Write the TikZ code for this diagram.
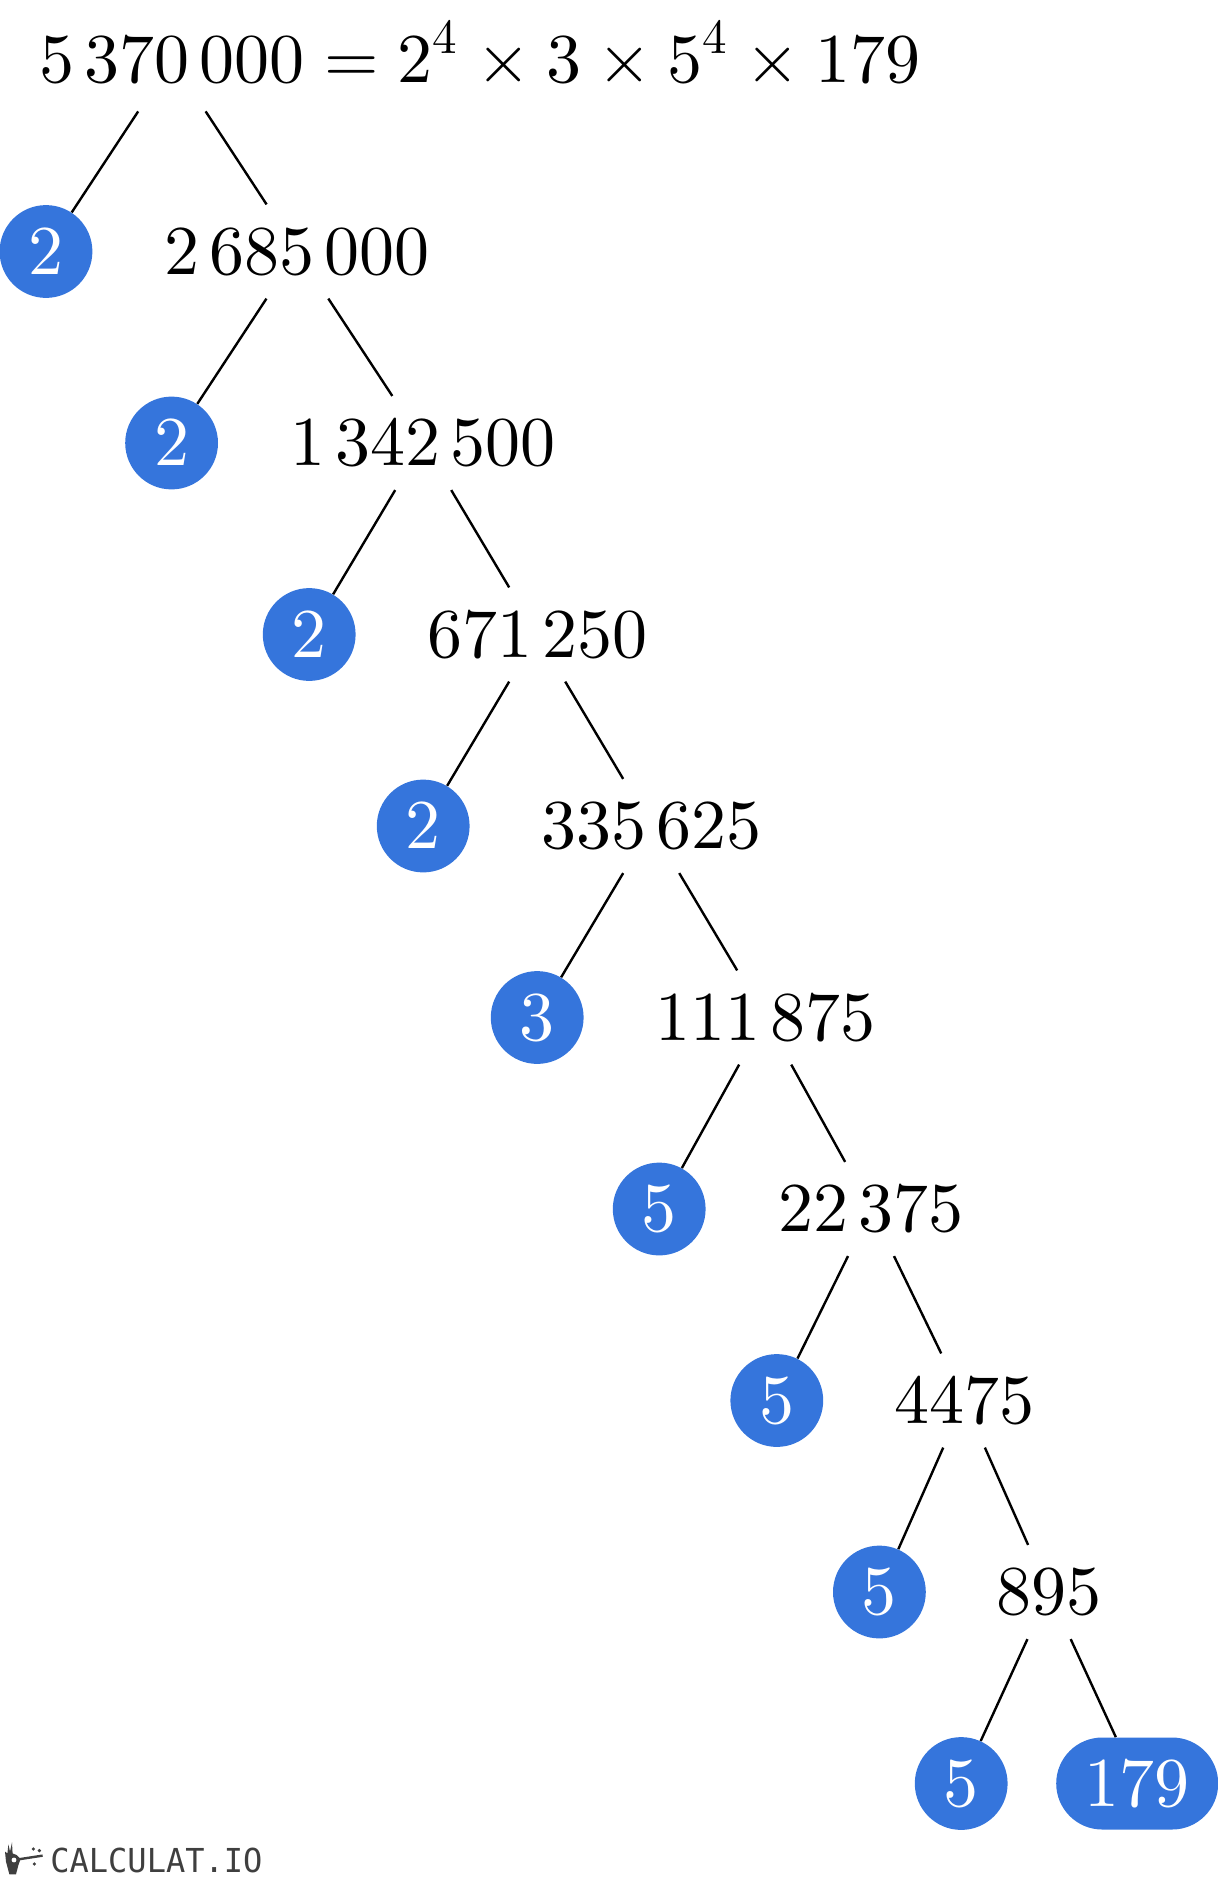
\documentclass[tikz,border=0pt]{standalone}
\usepackage[no-math]{fontspec}
\usepackage{tikz}
\usetikzlibrary{positioning}
\usetikzlibrary{shapes.misc}
\DeclareFontShape{OT1}{cmr}{m}{n}{<->cmr10}{}
\DeclareFontShape{OML}{cmm}{m}{it}{<->cmmi10}{}
\DeclareFontShape{OMS}{cmsy}{m}{n}{<->cmsy10}{}
\newfontfamily\lcdfont[FakeStretch=0.97]{DejaVu Sans Mono}
\newcommand{\digitgap}{\mskip2.6mu\relax}
\definecolor{factorblue}{HTML}{3575DC}
\definecolor{logogray}{HTML}{3F3F3F}

\begin{document}
\begin{tikzpicture}[
        on grid,
        font=\fontsize{35}{40}\selectfont,
        number/.style={minimum height=46.7pt, inner sep=0pt},
        factor/.style={circle, fill=factorblue, text=white, minimum size=46.4pt, inner sep=0pt},
        lastfactor/.style={rounded rectangle, fill=factorblue, text=white, minimum height=46pt, minimum width=81pt, inner sep=0pt},
        branch/.style={line width=1.2pt},
    ]
        \useasboundingbox (0,0) rectangle (608.5pt,-939.5pt);

        \node[number, minimum height=51pt] (root) at (86pt,-30pt) {$5\digitgap 370\digitgap 000\rlap{\smash{$\displaystyle\scriptspace=1.75pt\;{=}\;2^4\times 3\times 5^4\times 179$}}$};
        \node[factor, below left = 95.75pt and 63pt of root] (f1) {$2$};
        \node[number, below right = 95.75pt and 62.7pt of root] (n1) {$2\digitgap 685\digitgap 000$};
        \node[factor, below left = 95.75pt and 62.9pt of n1] (f2) {$2$};
        \node[number, below right = 95.75pt and 62.9pt of n1] (n2) {$1\digitgap 342\digitgap 500$};
        \node[factor, below left = 95.75pt and 57pt of n2] (f3) {$2$};
        \node[number, below right = 95.75pt and 57pt of n2] (n3) {$671\digitgap 250$};
        \node[factor, below left = 95.75pt and 57pt of n3] (f4) {$2$};
        \node[number, below right = 95.75pt and 57pt of n3] (n4) {$335\digitgap 625$};
        \node[factor, below left = 95.75pt and 57pt of n4] (f5) {$3$};
        \node[number, below right = 95.75pt and 57pt of n4] (n5) {$111\digitgap 875$};
        \node[factor, below left = 95.75pt and 53pt of n5] (f6) {$5$};
        \node[number, below right = 95.75pt and 53pt of n5] (n6) {$22\digitgap 375$};
        \node[factor, below left = 95.75pt and 47.2pt of n6] (f7) {$5$};
        \node[number, below right = 95.75pt and 46.4pt of n6] (n7) {$4475$};
        \node[factor, below left = 95.75pt and 42.3pt of n7] (f8) {$5$};
        \node[number, below right = 95.75pt and 42.5pt of n7] (n8) {$895$};
        \node[factor, below left = 95.75pt and 43.9pt of n8] (f9) {$5$};
        \node[lastfactor, below right = 95.75pt and 44.1pt of n8] (f10) {$179$};

        \draw[branch] (root) -- (f1);
        \draw[branch] (root) -- (n1);
        \draw[branch] (n1) -- (f2);
        \draw[branch] (n1) -- (n2);
        \draw[branch] (n2) -- (f3);
        \draw[branch] (n2) -- (n3);
        \draw[branch] (n3) -- (f4);
        \draw[branch] (n3) -- (n4);
        \draw[branch] (n4) -- (f5);
        \draw[branch] (n4) -- (n5);
        \draw[branch] (n5) -- (f6);
        \draw[branch] (n5) -- (n6);
        \draw[branch] (n6) -- (f7);
        \draw[branch] (n6) -- (n7);
        \draw[branch] (n7) -- (f8);
        \draw[branch] (n7) -- (n8);
        \draw[branch] (n8) -- (f9);
        \draw[branch] (n8) -- (f10);

        % logo
        \node[anchor=base west, inner sep=0pt, text=logogray, font=\lcdfont\fontsize{16.5}{18}\selectfont] (logo) at (25pt,-936pt) {CALCULAT.IO};
        \fill[logogray] (4.7pt,-937.2pt) -- (3pt,-930.8pt) -- (2.5pt,-925.8pt) -- (3.7pt,-926.7pt) -- (4.2pt,-922.2pt) -- (5pt,-925.8pt) -- (6pt,-921.2pt) -- (6.3pt,-926.7pt) -- (8.3pt,-927.5pt) -- (10.3pt,-929.5pt) -- (9.2pt,-932.5pt) -- (8pt,-937.2pt) -- cycle;
        \draw[logogray, line width=1.2pt] (7pt,-930pt) -- (21.3pt,-927.8pt);
        \fill[white] (7pt,-930pt) circle (1.2pt);
        \fill[logogray] (16.7pt,-924.5pt) circle (0.9pt) (19.7pt,-925.3pt) circle (0.9pt) (17.2pt,-932pt) circle (0.9pt);
    \end{tikzpicture}
\end{document}
